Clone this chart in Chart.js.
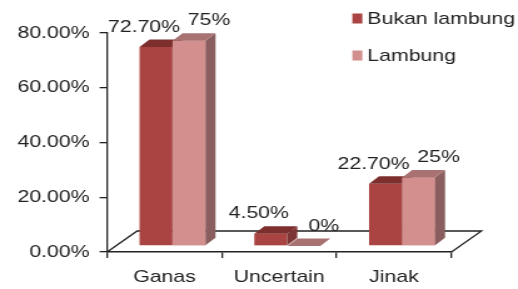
<!DOCTYPE html>
<html>
<head>
<meta charset="utf-8">
<script src="https://cdn.jsdelivr.net/npm/chart.js@4"></script>
<style>
html, body { margin: 0; padding: 0; background: #fff; overflow: hidden; }
/* the original picture is stretched sideways, so draw narrow and widen */
#wrap { width: 414px; height: 289px; transform: scaleX(1.2512); transform-origin: 0 0; }
</style>
</head>
<body>
<div id="wrap"><canvas id="chart" width="414" height="289"></canvas></div>
<script>
var categories = ['Ganas', 'Uncertain', 'Jinak'];
var bukanLambung = [72.7, 4.5, 22.7];
var lambung = [75, 0, 25];
var seriesNames = ['Bukan lambung', 'Lambung'];
var yTicks = [0, 20, 40, 60, 80];

var FONT = '"Liberation Sans", Arial, sans-serif';
var TEXT = '#222';

// 3d look: bars pushed back into the floor, each bar has a small depth
var SHIFT_X = 6.4, SHIFT_Y = -6;
var DEPTH_X = 8, DEPTH_Y = -7.5;
var FLOOR_X = 24, FLOOR_Y = -21;

var faces = [
  { front: '#A94442', top: '#7D2F2E', side: '#7E3535' },
  { front: '#D38E8E', top: '#A87272', side: '#8A5E5E' }
];

function fmt(i, v) {
  return i === 0 ? v.toFixed(2) + '%' : v + '%';
}

function poly(ctx, pts, color) {
  ctx.fillStyle = color;
  ctx.beginPath();
  ctx.moveTo(pts[0][0], pts[0][1]);
  for (var k = 1; k < pts.length; k++) ctx.lineTo(pts[k][0], pts[k][1]);
  ctx.closePath();
  ctx.fill();
}

function drawFaces(ctx, meta, f) {
  meta.data.forEach(function(bar) {
    var p = bar.getProps(['x', 'y', 'base', 'width'], true);
    var l = p.x - p.width / 2, r = p.x + p.width / 2;
    var t = Math.min(p.y, p.base), b = p.base;
    poly(ctx, [[r, t], [r + DEPTH_X, t + DEPTH_Y], [r + DEPTH_X, b + DEPTH_Y], [r, b]], f.side);
    poly(ctx, [[l, t], [r, t], [r + DEPTH_X, t + DEPTH_Y], [l + DEPTH_X, t + DEPTH_Y]], f.top);
  });
}

var threeD = {
  id: 'threeD',
  beforeDatasetsDraw: function(chart) {
    var ctx = chart.ctx, a = chart.chartArea;
    ctx.save();
    ctx.strokeStyle = '#222';
    ctx.lineWidth = 1.3;
    ctx.beginPath();
    ctx.moveTo(a.left, a.bottom);
    ctx.lineTo(a.left + FLOOR_X, a.bottom + FLOOR_Y);
    ctx.lineTo(a.right + FLOOR_X, a.bottom + FLOOR_Y);
    ctx.lineTo(a.right, a.bottom);
    ctx.stroke();
    ctx.restore();
    ctx.save();
    ctx.translate(SHIFT_X, SHIFT_Y);
  },
  afterDatasetsDraw: function(chart) {
    var ctx = chart.ctx;
    var m0 = chart.getDatasetMeta(0), m1 = chart.getDatasetMeta(1);
    // first series faces, then second series drawn again over them
    drawFaces(ctx, m0, faces[0]);
    m1.data.forEach(function(bar) { bar.draw(ctx); });
    drawFaces(ctx, m1, faces[1]);
    ctx.restore();

    // value labels
    ctx.save();
    ctx.font = '17px ' + FONT;
    ctx.fillStyle = TEXT;
    ctx.textAlign = 'center';
    ctx.textBaseline = 'middle';
    chart.data.datasets.forEach(function(ds, i) {
      var meta = chart.getDatasetMeta(i);
      meta.data.forEach(function(bar, j) {
        var p = bar.getProps(['x', 'y'], true);
        var off = i === 0 ? -9.6 : 16;
        ctx.fillText(fmt(i, ds.data[j]), p.x + SHIFT_X + off, p.y + SHIFT_Y - 20);
      });
    });
    // legend
    ctx.textAlign = 'left';
    chart.data.datasets.forEach(function(ds, i) {
      var cy = 18.5 + i * 37;
      ctx.fillStyle = ds.backgroundColor;
      ctx.fillRect(281.6, cy - 5, 8, 10);
      ctx.fillStyle = TEXT;
      ctx.fillText(ds.label, 293.6, cy + 1);
    });
    ctx.restore();
  }
};

new Chart(document.getElementById('chart'), {
  type: 'bar',
  data: {
    labels: categories,
    datasets: [
      { label: seriesNames[0], data: bukanLambung, backgroundColor: faces[0].front, clip: false },
      { label: seriesNames[1], data: lambung, backgroundColor: faces[1].front, clip: false }
    ]
  },
  options: {
    responsive: false,
    animation: false,
    categoryPercentage: 0.575,
    barPercentage: 1,
    layout: { padding: { top: 33, right: 53.2, bottom: 0, left: 0 } },
    plugins: {
      legend: { display: false },
      tooltip: { enabled: false }
    },
    scales: {
      x: {
        grid: { drawOnChartArea: false, color: '#222', tickLength: 6, lineWidth: 1.3 },
        border: { color: '#222', width: 1.5 },
        ticks: { color: TEXT, font: { family: FONT, size: 17 }, padding: 9 },
        afterFit: function(s) { s.height = 37; }
      },
      y: {
        min: yTicks[0],
        max: yTicks[yTicks.length - 1],
        afterBuildTicks: function(s) { s.ticks = yTicks.map(function(v) { return { value: v }; }); },
        grid: { drawOnChartArea: false, color: '#222', tickLength: 6, lineWidth: 1.3 },
        border: { color: '#222', width: 1.3 },
        ticks: {
          color: TEXT,
          font: { family: FONT, size: 17 },
          padding: 8,
          callback: function(v) { return v.toFixed(2) + '%'; }
        },
        afterFit: function(s) { s.width = 85.6; }
      }
    }
  },
  plugins: [threeD]
});
</script>
</body>
</html>
